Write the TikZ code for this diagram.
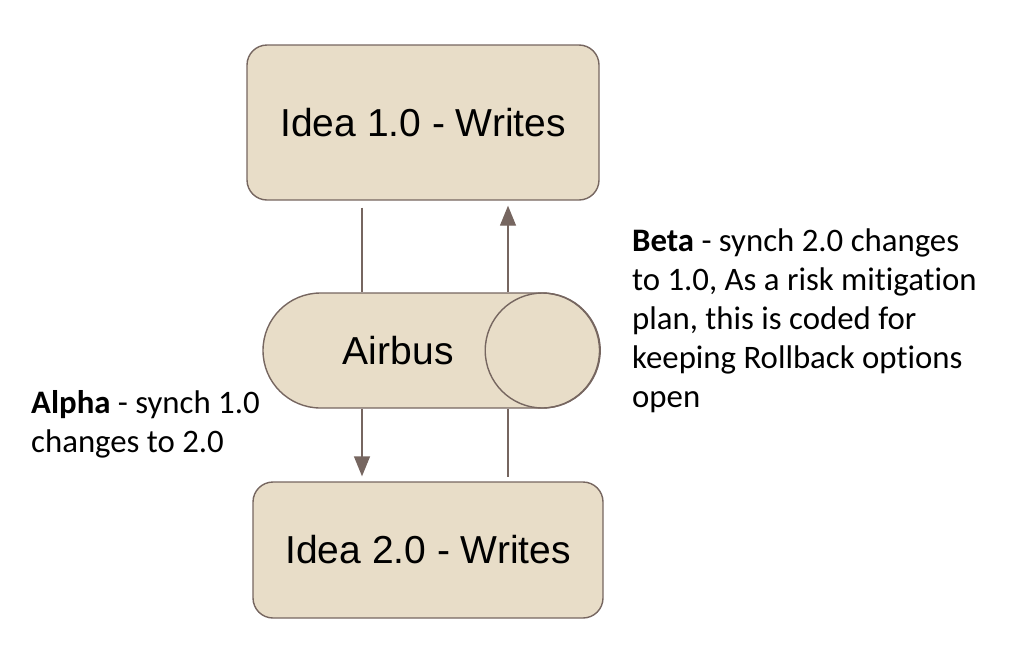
\documentclass[tikz,border=0pt]{standalone}
\usepackage{fontspec}
\setmainfont{Carlito}[Ligatures={NoCommon}]
\newfontfamily\boxfont{Liberation Sans}
\usetikzlibrary{positioning,calc,arrows.meta,shapes.misc}
\definecolor{sand}{HTML}{E8DDC8}
\definecolor{umber}{HTML}{766660}

\begin{document}
\begin{tikzpicture}[
    x=1pt, y=-1pt,
    idea/.style={rectangle, rounded corners=20pt, draw=umber, fill=sand, line width=1.4pt, font=\boxfont\fontsize{39}{46}\selectfont},
    bus/.style={rounded rectangle, draw=umber, fill=sand, line width=1.4pt, minimum width=336.5pt, minimum height=115pt, inner sep=0pt},
    link/.style={draw=umber, line width=1.4pt, -{Triangle[length=20pt,width=16pt]}},
    plain/.style={draw=umber, line width=1.4pt},
    note/.style={align=left, inner sep=0pt, font=\fontsize{32.8}{38.8}\selectfont}
]
\useasboundingbox (0,0) rectangle (1024,659);

% Define boxes
\node[idea, minimum width=352pt, minimum height=155pt] (idea1) at (423,122.5) {Idea 1.0 - Writes};
\node[idea, minimum width=350pt, minimum height=136pt] (idea2) at (428,550) {Idea 2.0 - Writes};

% The Airbus drum
\node[bus] (bus) at (431.25,350.5) {};
\draw[plain] ([shift={(-57.5,0)}]bus.east) circle[radius=57.5pt];
\node[font=\boxfont\fontsize{39}{46}\selectfont] (busname) at ([shift={(-33,0)}]bus.center) {Airbus};

% Alpha and Beta paths
\coordinate (alphaTop) at ([shift={(-61,7)}]idea1.south);
\coordinate (betaTop) at ([shift={(85,5)}]idea1.south);
\draw[plain] (alphaTop) -- (alphaTop |- bus.north);
\draw[link] (alphaTop |- bus.south) -- ([shift={(0,-5)}]alphaTop |- idea2.north);
\draw[link] (betaTop |- bus.north) -- (betaTop);
\draw[plain] (betaTop |- bus.south) -- ([shift={(0,-4)}]betaTop |- idea2.north);

% Notes (base anchor sits on the last line)
\node[note, anchor=base west] (beta) at (632,407) {\textbf{Beta} - synch 2.0 changes\\to 1.0, As a risk mitigation\\plan, this is coded for\\keeping Rollback options\\open};
\node[note, anchor=base west] (alpha) at (31,452) {\textbf{Alpha} - synch 1.0\\changes to 2.0};

\end{tikzpicture}
\end{document}
